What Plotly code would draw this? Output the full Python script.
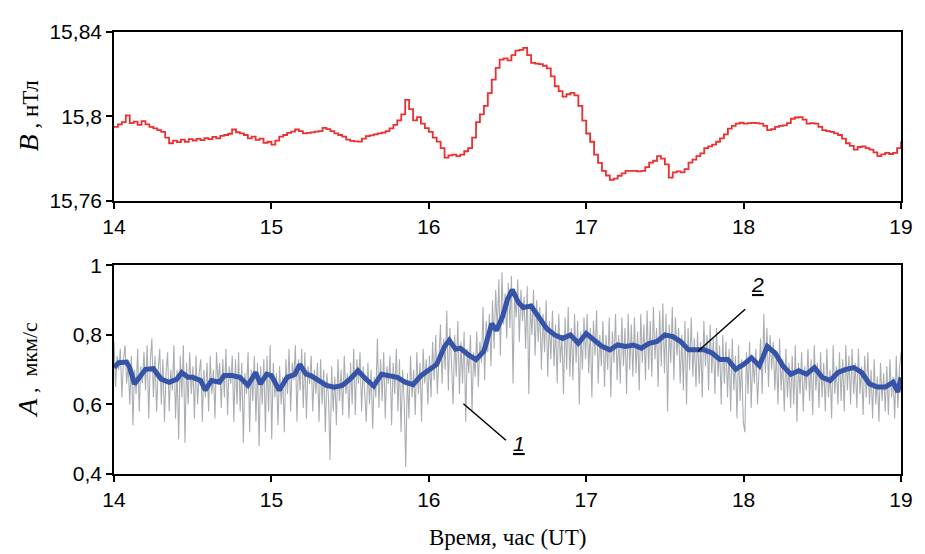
import numpy as np
import plotly.graph_objects as go

# ---------------- data ----------------
# Top panel: magnetic field B (nT), uniform sampling 14..19 h, step 0.025 h
red_vals = [
15.7950,15.7962,15.7973,15.8005,15.7968,15.7975,15.7960,15.7978,15.7962,15.7950,
15.7943,15.7935,15.7927,15.7900,15.7873,15.7885,15.7878,15.7890,15.7880,15.7892,
15.7886,15.7894,15.7888,15.7897,15.7892,15.7903,15.7896,15.7908,15.7912,15.7918,
15.7938,15.7925,15.7920,15.7912,15.7896,15.7904,15.7889,15.7895,15.7875,15.7880,
15.7866,15.7885,15.7904,15.7912,15.7922,15.7928,15.7938,15.7930,15.7920,15.7922,
15.7924,15.7928,15.7930,15.7946,15.7940,15.7930,15.7920,15.7912,15.7904,15.7890,
15.7884,15.7882,15.7881,15.7895,15.7907,15.7910,15.7915,15.7920,15.7923,15.7930,
15.7943,15.7960,15.7981,15.8010,15.8078,15.8035,15.7981,15.7997,15.7966,15.7945,
15.7927,15.7900,15.7881,15.7850,15.7805,15.7815,15.7819,15.7812,15.7819,15.7835,
15.7850,15.7900,15.7973,15.8010,15.8050,15.8110,15.8174,15.8230,15.8269,15.8275,
15.8266,15.8290,15.8312,15.8315,15.8325,15.8290,15.8254,15.8250,15.8248,15.8240,
15.8228,15.8190,15.8143,15.8120,15.8094,15.8105,15.8112,15.8100,15.8050,15.7980,
15.7919,15.7880,15.7819,15.7780,15.7742,15.7720,15.7699,15.7705,15.7719,15.7730,
15.7742,15.7742,15.7742,15.7740,15.7742,15.7760,15.7781,15.7790,15.7812,15.7800,
15.7773,15.7710,15.7735,15.7740,15.7735,15.7750,15.7781,15.7795,15.7812,15.7825,
15.7850,15.7858,15.7866,15.7880,15.7896,15.7915,15.7942,15.7955,15.7966,15.7970,
15.7966,15.7968,15.7969,15.7968,15.7966,15.7955,15.7935,15.7940,15.7950,15.7955,
15.7958,15.7968,15.7989,15.7995,15.7997,15.7985,15.7966,15.7968,15.7966,15.7950,
15.7935,15.7930,15.7927,15.7920,15.7912,15.7895,15.7873,15.7860,15.7843,15.7855,
15.7858,15.7850,15.7843,15.7830,15.7812,15.7820,15.7827,15.7822,15.7827,15.7850,
15.7881]

# Bottom panel, series 1: raw amplitude A (um/s), uniform sampling 14..19 h
gray_vals = [
0.78,0.65,0.74,0.70,0.76,0.62,0.73,0.77,0.66,0.72,
0.60,0.74,0.54,0.70,0.63,0.76,0.58,0.71,0.66,0.75,
0.64,0.77,0.56,0.72,0.79,0.62,0.74,0.58,0.70,0.76,
0.60,0.73,0.55,0.69,0.75,0.58,0.70,0.64,0.77,0.56,
0.70,0.50,0.74,0.62,0.77,0.49,0.72,0.60,0.75,0.63,
0.71,0.56,0.74,0.60,0.69,0.73,0.55,0.70,0.62,0.72,
0.58,0.74,0.63,0.70,0.56,0.75,0.66,0.72,0.59,0.73,
0.62,0.76,0.57,0.71,0.66,0.74,0.55,0.73,0.60,0.75,
0.58,0.72,0.49,0.69,0.63,0.75,0.52,0.70,0.61,0.74,
0.55,0.72,0.48,0.71,0.60,0.73,0.52,0.74,0.58,0.77,
0.50,0.72,0.62,0.69,0.54,0.71,0.60,0.68,0.52,0.73,
0.63,0.76,0.58,0.72,0.67,0.77,0.55,0.73,0.64,0.76,
0.59,0.75,0.56,0.71,0.66,0.74,0.58,0.70,0.63,0.72,
0.55,0.73,0.60,0.70,0.52,0.69,0.62,0.44,0.71,0.58,
0.68,0.54,0.73,0.61,0.70,0.57,0.74,0.63,0.69,0.56,
0.72,0.60,0.76,0.57,0.73,0.66,0.75,0.58,0.71,0.64,
0.55,0.72,0.60,0.70,0.53,0.68,0.62,0.79,0.59,0.73,
0.61,0.75,0.56,0.71,0.66,0.74,0.54,0.72,0.63,0.76,
0.58,0.73,0.52,0.70,0.61,0.42,0.69,0.56,0.74,0.62,
0.70,0.57,0.75,0.63,0.72,0.55,0.76,0.66,0.73,0.60,
0.74,0.62,0.78,0.67,0.80,0.63,0.76,0.83,0.66,0.79,
0.70,0.87,0.64,0.82,0.72,0.60,0.80,0.68,0.84,0.63,
0.78,0.66,0.81,0.55,0.76,0.69,0.80,0.58,0.75,0.68,
0.81,0.65,0.78,0.72,0.88,0.67,0.84,0.75,0.86,0.71,
0.90,0.76,0.93,0.81,0.96,0.74,0.98,0.83,0.92,0.79,
0.95,0.82,0.97,0.66,0.92,0.85,0.96,0.78,0.93,0.84,
0.91,0.76,0.94,0.63,0.89,0.80,0.93,0.74,0.90,0.78,
0.88,0.70,0.86,0.75,0.90,0.68,0.84,0.73,0.87,0.71,
0.83,0.66,0.86,0.72,0.80,0.63,0.85,0.70,0.88,0.68,
0.82,0.67,0.86,0.72,0.84,0.60,0.81,0.70,0.85,0.73,
0.86,0.69,0.82,0.62,0.84,0.74,0.87,0.66,0.80,0.71,
0.84,0.65,0.80,0.70,0.85,0.62,0.81,0.72,0.86,0.67,
0.80,0.66,0.85,0.71,0.82,0.63,0.86,0.70,0.83,0.68,
0.85,0.69,0.81,0.64,0.86,0.72,0.83,0.67,0.87,0.70,
0.84,0.68,0.88,0.73,0.82,0.65,0.87,0.71,0.89,0.69,
0.86,0.58,0.83,0.72,0.88,0.67,0.85,0.74,0.82,0.66,
0.80,0.64,0.84,0.60,0.82,0.70,0.85,0.68,0.79,0.65,
0.81,0.66,0.78,0.62,0.84,0.71,0.80,0.64,0.83,0.69,
0.79,0.63,0.82,0.68,0.77,0.60,0.80,0.66,0.78,0.62,
0.76,0.58,0.79,0.64,0.74,0.56,0.77,0.61,0.73,0.55,
0.52,0.75,0.63,0.78,0.59,0.74,0.66,0.76,0.60,0.72,
0.79,0.63,0.86,0.69,0.82,0.65,0.80,0.70,0.78,0.64,
0.75,0.60,0.79,0.64,0.73,0.58,0.76,0.62,0.72,0.59,
0.74,0.60,0.77,0.55,0.72,0.63,0.75,0.58,0.71,0.64,
0.76,0.61,0.73,0.57,0.77,0.64,0.72,0.59,0.75,0.62,
0.72,0.58,0.76,0.62,0.70,0.56,0.77,0.63,0.71,0.60,
0.75,0.61,0.73,0.58,0.77,0.64,0.74,0.60,0.76,0.63,
0.72,0.59,0.76,0.63,0.71,0.57,0.74,0.62,0.75,0.60,
0.70,0.56,0.73,0.60,0.68,0.55,0.72,0.61,0.69,0.58,
0.71,0.57,0.73,0.62,0.68,0.56,0.74,0.59,0.70,0.75]

# Bottom panel, series 2: smoothed amplitude
blue_t = [14.00,14.03,14.08,14.10,14.13,14.17,14.20,14.25,14.30,14.35,14.40,14.43,14.47,14.50,
          14.55,14.58,14.62,14.67,14.70,14.75,14.80,14.85,14.90,14.93,14.97,15.00,15.05,15.10,
          15.15,15.18,15.22,15.25,15.30,15.35,15.40,15.45,15.50,15.55,15.60,15.65,15.70,15.75,
          15.80,15.85,15.90,15.95,16.00,16.05,16.10,16.13,16.17,16.20,16.25,16.30,16.35,16.40,
          16.43,16.47,16.50,16.53,16.57,16.60,16.65,16.70,16.75,16.80,16.85,16.90,16.95,17.00,
          17.05,17.10,17.15,17.20,17.25,17.30,17.35,17.40,17.45,17.50,17.55,17.60,17.65,17.70,
          17.75,17.80,17.85,17.90,17.95,18.00,18.05,18.10,18.15,18.20,18.25,18.30,18.35,18.40,
          18.45,18.50,18.55,18.60,18.65,18.70,18.75,18.80,18.85,18.90,18.95,18.98,19.00]
blue_vals = [0.706,0.720,0.722,0.706,0.659,0.683,0.701,0.703,0.673,0.664,0.673,0.692,0.678,0.678,
             0.669,0.641,0.669,0.664,0.683,0.683,0.678,0.655,0.692,0.659,0.687,0.683,0.641,0.678,
             0.687,0.715,0.687,0.683,0.669,0.655,0.650,0.655,0.673,0.697,0.673,0.653,0.687,0.683,
             0.678,0.664,0.657,0.683,0.701,0.715,0.767,0.785,0.759,0.762,0.743,0.729,0.753,0.832,
             0.813,0.855,0.902,0.930,0.893,0.879,0.883,0.851,0.818,0.800,0.790,0.800,0.776,0.804,
             0.785,0.767,0.757,0.771,0.767,0.771,0.762,0.776,0.781,0.800,0.795,0.781,0.757,0.757,
             0.757,0.748,0.729,0.729,0.701,0.715,0.734,0.711,0.767,0.748,0.711,0.687,0.697,0.687,
             0.706,0.678,0.669,0.692,0.701,0.706,0.692,0.659,0.650,0.650,0.664,0.636,0.678]

x_ticks = [14, 15, 16, 17, 18, 19]
b_ticks = [15.76, 15.80, 15.84]
b_ticklabels = ["15,76", "15,8", "15,84"]
a_ticks = [0.4, 0.6, 0.8, 1.0]
a_ticklabels = ["0,4", "0,6", "0,8", "1"]

red_t = np.linspace(14, 19, len(red_vals))
gray_t = np.linspace(14, 19, len(gray_vals))

# ---------------- figure ----------------
fig = go.Figure()
fig.add_trace(go.Scatter(x=red_t, y=red_vals, mode="lines",
                         line=dict(color="#ee2f2f", width=1.8, shape="hv"),
                         xaxis="x", yaxis="y", showlegend=False))
fig.add_trace(go.Scatter(x=gray_t, y=gray_vals, mode="lines",
                         line=dict(color="#aaaeb2", width=1.1),
                         xaxis="x2", yaxis="y2", showlegend=False))
fig.add_trace(go.Scatter(x=blue_t, y=blue_vals, mode="lines",
                         line=dict(color="#3553a8", width=5),
                         xaxis="x2", yaxis="y2", showlegend=False))

axis_common = dict(showline=True, linecolor="black", linewidth=1.6, mirror=True,
                   ticks="outside", ticklen=6, tickwidth=1.6, tickcolor="black",
                   showgrid=False, zeroline=False, ticklabeloverflow="allow",
                   tickfont=dict(family="Liberation Sans, Arial", size=21, color="black"))

# page body has an 8px margin, so the figure is sized to end at the window edge
fig.update_layout(
    width=917, height=546,
    margin=dict(l=106, r=15, t=13, b=80),
    paper_bgcolor="white", plot_bgcolor="white",
    xaxis=dict(domain=[0, 1], range=[14, 19], tickvals=x_ticks, anchor="y", **axis_common),
    yaxis=dict(domain=[0.618, 1], range=[15.76, 15.84], tickvals=b_ticks,
               ticktext=b_ticklabels, anchor="x", **axis_common),
    xaxis2=dict(domain=[0, 1], range=[14, 19], tickvals=x_ticks, anchor="y2", **axis_common),
    yaxis2=dict(domain=[0, 0.472], range=[0.4, 1.0], tickvals=a_ticks,
                ticktext=a_ticklabels, anchor="x2", **axis_common),
)

serif = "Liberation Serif, Times New Roman, serif"
annotations = [
    dict(text="<i>B</i><span style='font-size:23px'> , нТл</span>",
         xref="paper", yref="paper", x=0, y=(0.618 + 1) / 2, xanchor="center", yanchor="middle",
         xshift=-86, textangle=-90, showarrow=False,
         font=dict(family=serif, size=28, color="black")),
    dict(text="<i>A</i><span style='font-size:22px'> ,  мкм/с</span>",
         xref="paper", yref="paper", x=0, y=0.472 / 2, xanchor="center", yanchor="middle",
         xshift=-86, textangle=-90, showarrow=False,
         font=dict(family=serif, size=28, color="black")),
    dict(text="Время, час (UT)", xref="paper", yref="paper", x=0.5, y=0,
         xanchor="center", yanchor="top", yshift=-49, showarrow=False,
         font=dict(family=serif, size=23, color="black")),
    dict(text="<span style='text-decoration:underline'><i>1</i></span>",
         xref="x2", yref="y2", x=16.57, y=0.487, showarrow=False,
         font=dict(family="Liberation Sans, Arial", size=21, color="black")),
    dict(text="<span style='text-decoration:underline'><i>2</i></span>",
         xref="x2", yref="y2", x=18.09, y=0.944, showarrow=False,
         font=dict(family="Liberation Sans, Arial", size=21, color="black")),
]
fig.update_layout(annotations=annotations)

fig.add_shape(type="line", xref="x2", yref="y2", x0=16.22, y0=0.602, x1=16.49, y1=0.497,
              line=dict(color="black", width=1.5))
fig.add_shape(type="line", xref="x2", yref="y2", x0=18.01, y0=0.874, x1=17.71, y1=0.753,
              line=dict(color="black", width=1.5))

fig.write_html("out.html")
